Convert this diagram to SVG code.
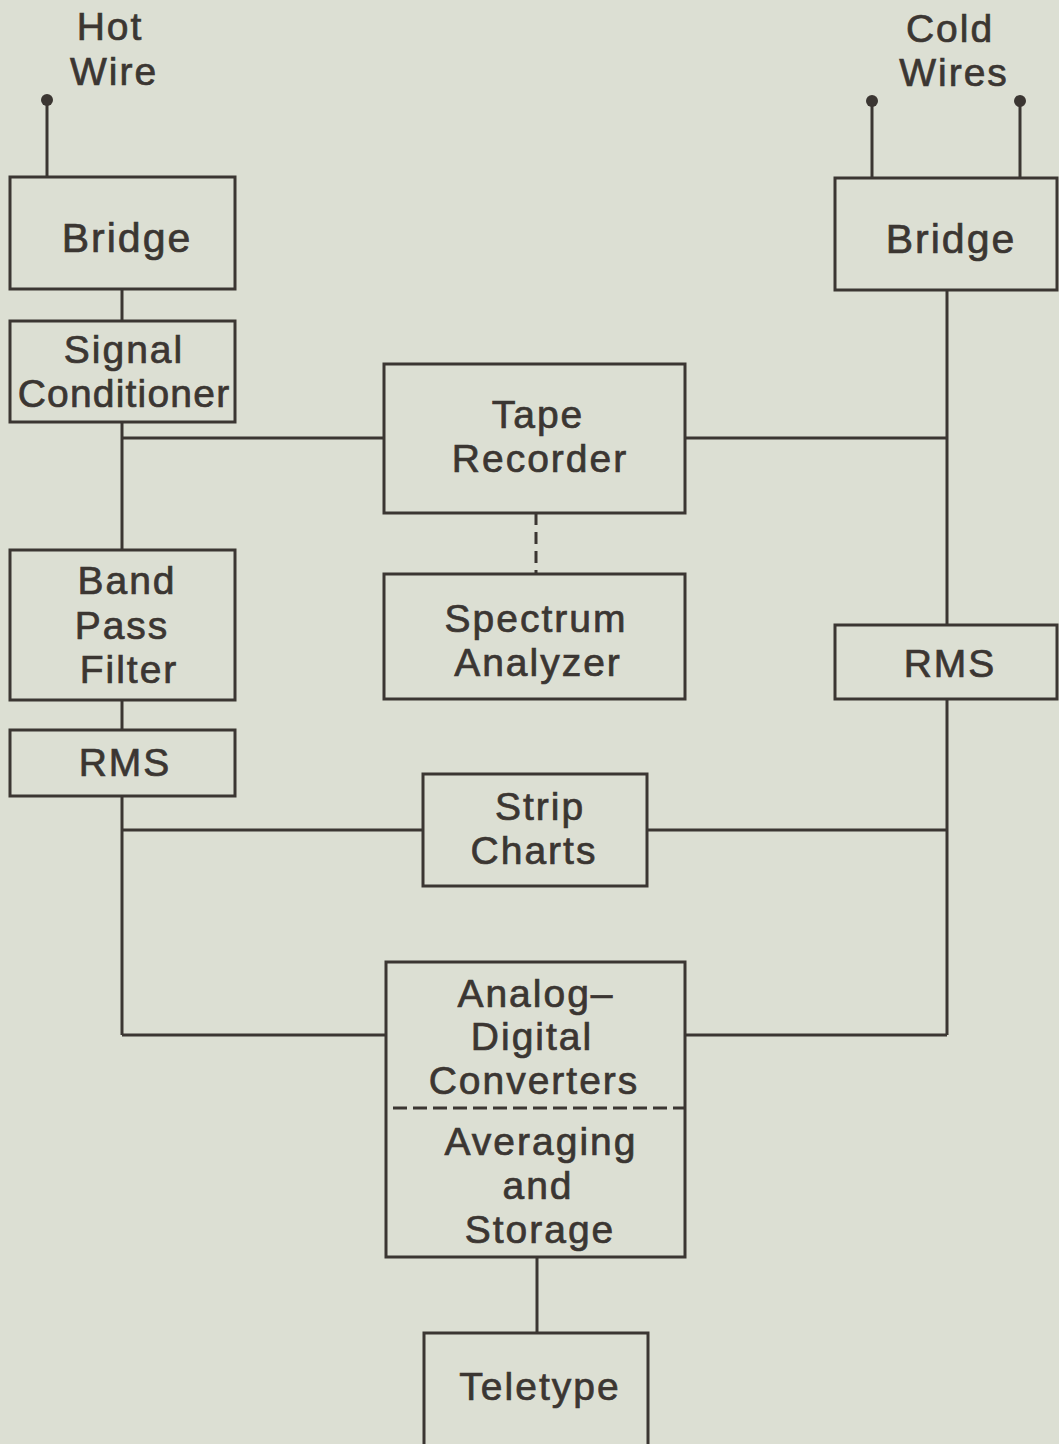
<svg xmlns="http://www.w3.org/2000/svg" width="1059" height="1444" viewBox="0 0 1059 1444">
<style>
.box{fill:none;stroke:#3b3632;stroke-width:3}
.ln{fill:none;stroke:#3b3632;stroke-width:3}
.dash{fill:none;stroke:#3b3632;stroke-width:3;stroke-dasharray:12 7}
text{font-family:"Liberation Sans",Arial,sans-serif;font-size:39px;fill:#3b3632;stroke:#3b3632;stroke-width:0.7px;text-anchor:middle;letter-spacing:2px}
.big{font-size:41px}
.dot{fill:#3b3632}
</style>
<rect width="1059" height="1444" fill="#dcdfd3"/>
<g id="connectors">
<line class="ln" x1="47" y1="100" x2="47" y2="177"/>
<line class="ln" x1="872" y1="101" x2="872" y2="178"/>
<line class="ln" x1="1020" y1="101" x2="1020" y2="178"/>
<line class="ln" x1="122" y1="289" x2="122" y2="321"/>
<line class="ln" x1="122" y1="422" x2="122" y2="550"/>
<line class="ln" x1="122" y1="438" x2="384" y2="438"/>
<line class="ln" x1="947" y1="290" x2="947" y2="625"/>
<line class="ln" x1="685" y1="438" x2="947" y2="438"/>
<line class="dash" x1="536" y1="513" x2="536" y2="574"/>
<line class="ln" x1="122" y1="700" x2="122" y2="730"/>
<line class="ln" x1="122" y1="796" x2="122" y2="1035"/>
<line class="ln" x1="122" y1="830" x2="423" y2="830"/>
<line class="ln" x1="947" y1="699" x2="947" y2="1035"/>
<line class="ln" x1="647" y1="830" x2="947" y2="830"/>
<line class="ln" x1="122" y1="1035" x2="386" y2="1035"/>
<line class="ln" x1="685" y1="1035" x2="947" y2="1035"/>
<line class="ln" x1="537" y1="1257" x2="537" y2="1333"/>
</g>
<g id="hot-wire">
<circle class="dot" cx="47" cy="100" r="6"/>
<text x="110" y="40">Hot</text>
<text x="114" y="85">Wire</text>
</g>
<g id="cold-wires">
<circle class="dot" cx="872" cy="101" r="6"/>
<circle class="dot" cx="1020" cy="101" r="6"/>
<text x="950" y="42">Cold</text>
<text x="954" y="86">Wires</text>
</g>
<g id="bridge-left">
<rect class="box" x="10" y="177" width="225" height="112"/>
<text class="big" x="127" y="252">Bridge</text>
</g>
<g id="bridge-right">
<rect class="box" x="835" y="178" width="222" height="112"/>
<text class="big" x="951" y="253">Bridge</text>
</g>
<g id="signal-conditioner">
<rect class="box" x="10" y="321" width="225" height="101"/>
<text x="124" y="363">Signal</text>
<text x="124" y="407" style="letter-spacing:1.2px">Conditioner</text>
</g>
<g id="tape-recorder">
<rect class="box" x="384" y="364" width="301" height="149"/>
<text x="538" y="428">Tape</text>
<text x="540" y="472">Recorder</text>
</g>
<g id="spectrum-analyzer">
<rect class="box" x="384" y="574" width="301" height="125"/>
<text x="536" y="632">Spectrum</text>
<text x="538" y="676">Analyzer</text>
</g>
<g id="band-pass-filter">
<rect class="box" x="10" y="550" width="225" height="150"/>
<text x="127" y="594">Band</text>
<text x="122" y="639">Pass</text>
<text x="129" y="683">Filter</text>
</g>
<g id="rms-left">
<rect class="box" x="10" y="730" width="225" height="66"/>
<text x="125" y="776">RMS</text>
</g>
<g id="rms-right">
<rect class="box" x="835" y="625" width="222" height="74"/>
<text x="950" y="677">RMS</text>
</g>
<g id="strip-charts">
<rect class="box" x="423" y="774" width="224" height="112"/>
<text x="540" y="820">Strip</text>
<text x="534" y="864">Charts</text>
</g>
<g id="adc">
<rect class="box" x="386" y="962" width="299" height="295"/>
<line class="dash" x1="393" y1="1108" x2="685" y2="1108" style="stroke-dasharray:14 6"/>
<text x="536" y="1007">Analog–</text>
<text x="532" y="1050">Digital</text>
<text x="534" y="1094">Converters</text>
<text x="541" y="1155">Averaging</text>
<text x="538" y="1199">and</text>
<text x="540" y="1243">Storage</text>
</g>
<g id="teletype">
<rect class="box" x="424" y="1333" width="224" height="118"/>
<text x="540" y="1400">Teletype</text>
</g>
</svg>
